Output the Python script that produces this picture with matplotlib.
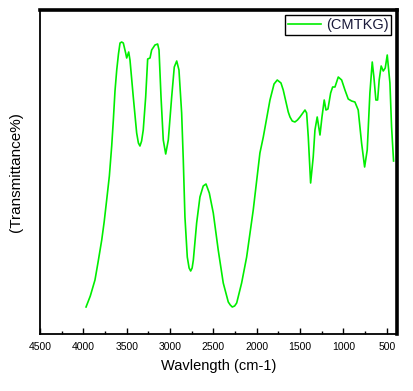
import matplotlib
matplotlib.use("Agg")
import matplotlib.pyplot as plt
from matplotlib.ticker import MultipleLocator

plt.rcParams['font.family'] = ['Liberation Sans', 'DejaVu Sans']

# Wavenumber (cm-1) and transmittance (arbitrary units)
wavenumber = [3969, 3920, 3866, 3830, 3788, 3760, 3731, 3700, 3673, 3654, 3635, 3615, 3595,
              3577, 3558, 3539, 3512, 3500, 3477, 3462, 3424, 3385, 3365, 3347, 3328, 3309,
              3281, 3258, 3231, 3212, 3174, 3143, 3127, 3104, 3078, 3050, 3020, 2981, 2951,
              2923, 2897, 2866, 2847, 2828, 2801, 2780, 2762, 2745, 2731, 2693, 2655, 2617,
              2585, 2547, 2501, 2444, 2386, 2328, 2305, 2282, 2255, 2231, 2174, 2116, 2040,
              1963, 1924, 1847, 1800, 1763, 1720, 1694, 1636, 1616, 1590, 1559, 1530, 1501,
              1443, 1424, 1405, 1378, 1348, 1328, 1302, 1270, 1247, 1221, 1201, 1178, 1147,
              1124, 1097, 1059, 1020, 982, 944, 905, 867, 829, 790, 755, 725, 694, 667, 648,
              625, 605, 587, 564, 540, 517, 494, 463, 444, 421]
transmittance = [27, 38, 54, 72, 94, 112, 134, 158, 188, 214, 243, 264, 280,
                 291, 292, 291, 281, 276, 282, 274, 237, 201, 191, 188, 193, 204,
                 237, 275, 276, 284, 289, 290, 284, 237, 194, 180, 194, 237, 267,
                 273, 264, 221, 174, 117, 77, 66, 63, 66, 74, 111, 137, 148,
                 150, 141, 121, 84, 51, 32, 29, 27, 28, 31, 51, 77, 124,
                 181, 197, 234, 250, 254, 251, 244, 222, 217, 213, 212, 214, 217,
                 224, 221, 197, 151, 177, 204, 217, 199, 217, 234, 224, 225, 241,
                 247, 247, 257, 254, 244, 235, 233, 232, 224, 191, 167, 184, 241, 272, 257,
                 234, 234, 254, 268, 263, 266, 279, 251, 207, 173]

fig = plt.figure(figsize=(4.13, 3.91), dpi=100)
ax = fig.add_axes([0.0969, 0.1458, 0.8636, 0.8286])

ax.plot(wavenumber, transmittance, color='#00ee00', lw=1.2, label='(CMTKG)',
        solid_joinstyle='round')

ax.set_xlim(4500, 385)
ax.set_ylim(0, 324)
ax.xaxis.set_major_locator(MultipleLocator(500))
ax.xaxis.set_minor_locator(MultipleLocator(250))
ax.set_yticks([])
ax.tick_params(axis='x', which='major', direction='in', length=4, width=1, labelsize=7.5,
               top=False, pad=6, colors='black')
ax.tick_params(axis='x', which='minor', direction='in', length=2.5, width=1, top=False)

for side in ['left', 'bottom']:
    ax.spines[side].set_linewidth(1.3)
for side in ['top', 'right']:
    ax.spines[side].set_linewidth(2.6)

ax.set_xlabel('Wavlength (cm-1)', fontsize=10.5, labelpad=5)
ax.set_ylabel('(Transmittance%)', fontsize=11, labelpad=12)

leg = ax.legend(loc='upper right', bbox_to_anchor=(0.985, 0.985), fontsize=10.5,
                frameon=True, fancybox=False, edgecolor='black', framealpha=1,
                handlelength=2.3, handletextpad=0.3, borderpad=0.2, borderaxespad=0)
leg.get_frame().set_linewidth(1.0)
for t in leg.get_texts():
    t.set_color('#1a1a3a')

fig.savefig('out.png', dpi=100)
